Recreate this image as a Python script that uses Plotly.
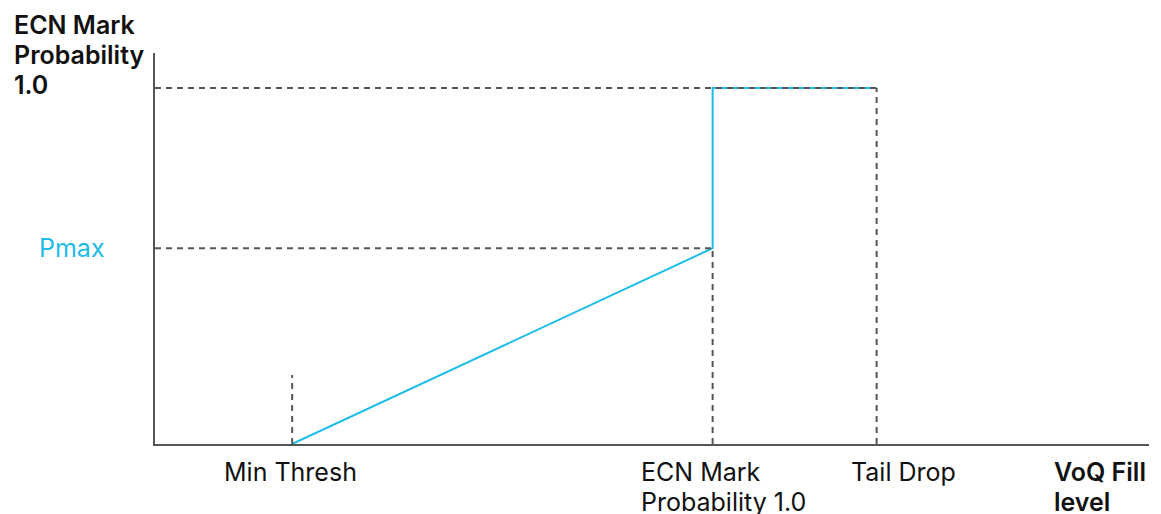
import plotly.graph_objects as go

# Data (x in fraction of VoQ fill range, y = ECN mark probability)
min_thresh = 0.138
ecn_mark_full = 0.561
tail_drop = 0.726
pmax = 0.55
max_prob = 1.0
min_thresh_guide_top = 0.194

curve_x = [min_thresh, ecn_mark_full, ecn_mark_full, tail_drop]
curve_y = [0.0, pmax, max_prob, max_prob]

y_title_lines = ["ECN Mark", "Probability", "1.0"]
x_label_lines = [["Min Thresh"], ["ECN Mark", "Probability 1.0"], ["Tail Drop"]]
x_axis_title_lines = ["VoQ Fill", "level"]

BLUE = "#1CBCEA"
GRAY = "#555555"
TXT = "#111111"
FONT = "Inter"
FS = 25
LINE_H = 30

fig = go.Figure()

fig.add_trace(go.Scatter(x=curve_x, y=curve_y, mode="lines",
                         line=dict(color=BLUE, width=2), hoverinfo="skip",
                         showlegend=False))

guides = [
    ([0, tail_drop], [max_prob, max_prob]),
    ([0, ecn_mark_full], [pmax, pmax]),
    ([ecn_mark_full, ecn_mark_full], [0, pmax]),
    ([tail_drop, tail_drop], [0, max_prob]),
    ([min_thresh, min_thresh], [0, min_thresh_guide_top]),
]
for gx, gy in guides:
    fig.add_trace(go.Scatter(x=gx, y=gy, mode="lines",
                             line=dict(color=GRAY, width=2, dash="6px,5px"),
                             hoverinfo="skip", showlegend=False))

W, H = 1161, 514
L, R, T, B = 155, 12, 53, 70
pw, ph = W - L - R, H - T - B
Y_ONE = 88  # pixel row of probability 1.0

def px_x(p):
    return (p - L) / pw

def px_y(p):
    return (H - B - p) / ph

ann = []

def add_lines(lines, left_px, top_px, bold=False, anchor="left", color=TXT):
    for i, t in enumerate(lines):
        font = dict(family=FONT, size=FS, color=color)
        if bold:
            font["weight"] = 600
        ann.append(dict(text=t, xref="paper", yref="paper", x=px_x(left_px),
                        y=px_y(top_px + i * LINE_H), xanchor=anchor, yanchor="top",
                        showarrow=False, font=font))

add_lines(y_title_lines, 12, 8, bold=True)
ann.append(dict(text="Pmax", xref="paper", yref="y", x=px_x(72), y=pmax,
                xanchor="center", yanchor="middle", showarrow=False,
                font=dict(family=FONT, size=FS, color=BLUE)))

LBL_TOP = 455
add_lines(x_label_lines[0], L + min_thresh * pw - 2, LBL_TOP, anchor="center")
add_lines(x_label_lines[1], 639, LBL_TOP)
add_lines(x_label_lines[2], 849, LBL_TOP)
add_lines(x_axis_title_lines, 1052, LBL_TOP, bold=True)

fig.update_layout(
    width=W, height=H,
    margin=dict(l=L, r=R, t=T, b=B),
    plot_bgcolor="white", paper_bgcolor="white",
    xaxis=dict(range=[0, 1], showgrid=False, zeroline=False, showticklabels=False,
               ticks="", showline=True, linecolor=GRAY, linewidth=2),
    yaxis=dict(range=[0, ph / (H - B - Y_ONE)], showgrid=False, zeroline=False,
               showticklabels=False, ticks="", showline=True, linecolor=GRAY, linewidth=2),
    annotations=ann,
)

fig.write_html("out.html", config={"displayModeBar": False},
               post_script="document.body.style.margin='0';document.body.style.overflow='hidden';")
